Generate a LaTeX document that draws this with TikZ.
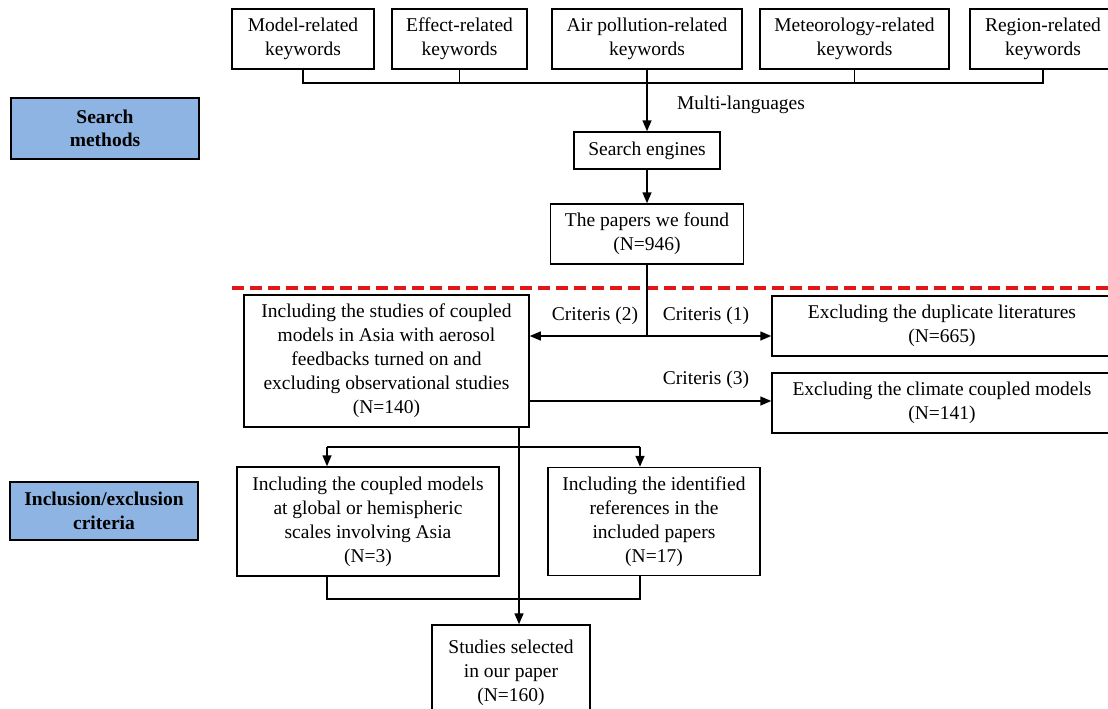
\documentclass[tikz,border=0pt]{standalone}
\usepackage{fontspec}
\setmainfont{Liberation Serif}
\usepackage{xcolor}
\usepackage{tikz}
\usetikzlibrary{arrows.meta}
\definecolor{labelblue}{RGB}{141,180,226}
\definecolor{cutred}{RGB}{226,24,24}

\begin{document}
\begin{tikzpicture}[x=1pt, y=-1pt, line width=1.5pt, >={Triangle[length=11pt,width=9pt]},
        box/.style={draw, rectangle, align=center, inner sep=0pt, font=\fontsize{19.5}{24}\selectfont},
        sidebox/.style={box, fill=labelblue, font=\fontsize{19.5}{23.5}\selectfont\bfseries},
        tag/.style={font=\fontsize{19.5}{24}\selectfont}]
        \clip (0,0) rectangle (1108,709);
        \node[sidebox, minimum width=188, minimum height=61] (searchlabel) at (105,128.5) {Search\\methods};
        \node[sidebox, minimum width=188, minimum height=58] (criterialabel) at (104,511) {Inclusion/exclusion\\criteria};
        \node[box, minimum width=142, minimum height=60] (model) at (303,39) {Model-related\\keywords};
        \node[box, minimum width=135, minimum height=60] (effect) at (459.5,39) {Effect-related\\keywords};
        \node[box, minimum width=190, minimum height=60] (airpol) at (647,39) {Air pollution-related\\keywords};
        \node[box, minimum width=189, minimum height=60] (meteo) at (854.5,39) {Meteorology-related\\keywords};
        \node[box, minimum width=146, minimum height=60] (region) at (1043,39) {Region-related\\keywords};
        \node[box, minimum width=146, minimum height=37] (engines) at (647,150.5) {Search engines};
        \node[box, minimum width=193, minimum height=60] (papers) at (647,234) {The papers we found\\(N=946)};
        \node[box, minimum width=285, minimum height=132] (included) at (386.5,361) {Including the studies of coupled\\models in Asia with aerosol\\feedbacks turned on and\\excluding observational studies\\(N=140)};
        \node[box, minimum width=340, minimum height=60] (duplicate) at (942,326) {Excluding the duplicate literatures\\(N=665)};
        \node[box, minimum width=340, minimum height=60] (climate) at (942,403) {Excluding the climate coupled models\\(N=141)};
        \node[box, minimum width=262, minimum height=109] (globalm) at (368,521.5) {Including the coupled models\\at global or hemispheric\\scales involving Asia\\(N=3)};
        \node[box, minimum width=212, minimum height=108] (refs) at (654,521.5) {Including the identified\\references in the\\included papers\\(N=17)};
        \node[box, minimum width=158, minimum height=95] (selected) at (511,672.5) {Studies selected\\in our paper\\(N=160)};
        \node[tag, anchor=west] (multi) at (673,105) {Multi-languages};
        \node[tag] (crit2) at (595,316) {Criteris (2)};
        \node[tag] (crit1) at (706,316) {Criteris (1)};
        \node[tag] (crit3) at (706,380) {Criteris (3)};
        \coordinate (bus) at (0,83);
        \coordinate (split) at (647,336);
        \coordinate (c3) at (650,401);
        \coordinate (trunk) at (519,427);
        \coordinate (lfork) at (327,447);
        \coordinate (rfork) at (640,447);
        \coordinate (join) at (0,599);
        \draw (model.south) -- (model.south |- bus) -- (region.south |- bus) -- (region.south);
        \foreach \k in {effect,meteo}
            \draw (\k.south) -- (\k.south |- bus);
        \draw[->] (airpol.south) -- (engines.north);
        \draw[->] (engines.south) -- (papers.north);
        \draw[cutred, line width=3.5pt, dash pattern=on 12pt off 6pt] (232,288) -- (1108,288);
        \draw (papers.south) -- (split);
        \draw[->] (split) -- (split -| included.east);
        \draw[->] (split) -- (split -| duplicate.west);
        \draw[->] (c3 -| included.east) -- (c3 -| climate.west);
        \draw[->] (trunk) -- (trunk |- selected.north);
        \draw (lfork) -- (rfork);
        \draw[->] (lfork) -- (lfork |- globalm.north);
        \draw[->] (rfork) -- (rfork |- refs.north);
        \draw (globalm.south -| lfork) -- (join -| lfork) -- (join -| rfork) -- (refs.south -| rfork);
    \end{tikzpicture}
\end{document}
